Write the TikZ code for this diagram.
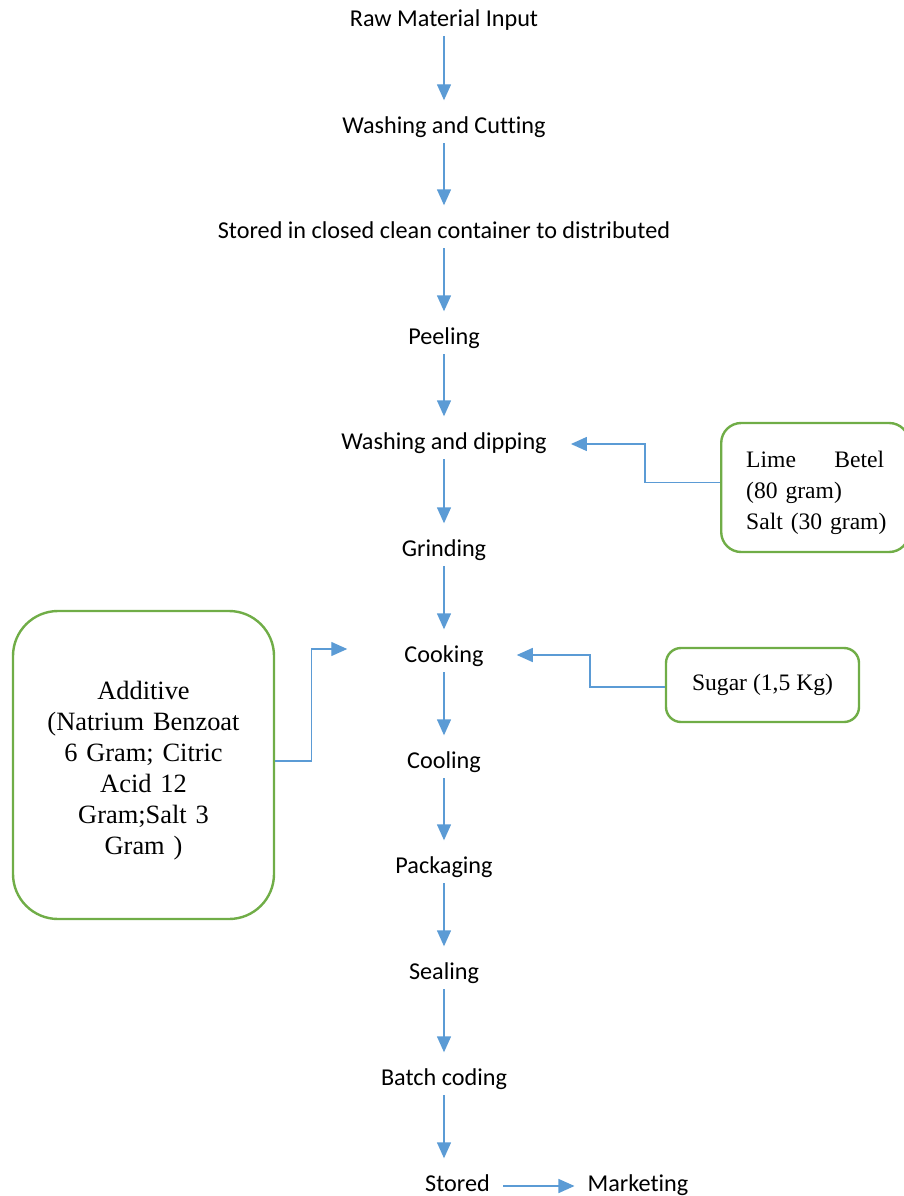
\documentclass[tikz,border=0pt]{standalone}
\usepackage{fontspec}
\setmainfont[Ligatures={NoCommon}]{Carlito}
\newfontfamily\boxfont{Liberation Serif}
\usetikzlibrary{arrows.meta}

\definecolor{flowblue}{HTML}{5B9BD5}
\definecolor{boxgreen}{HTML}{70AD47}

\tikzset{
	stepnode/.style={inner sep=0pt, text height=16pt, text depth=5pt,
		font=\fontsize{24.2}{29}\selectfont},
	inbox/.style={draw=boxgreen, line width=2.4pt, inner sep=0pt,
		font=\boxfont\fontsize{23.6}{31}\selectfont},
	flow/.style={draw=flowblue, line width=1.4pt,
		-{Triangle[length=16pt,width=14pt]}},
	down/.style={flow, shorten <=4.5pt, shorten >=17pt},
}

\begin{document}
\begin{tikzpicture}[x=1pt, y=-1pt]
	\useasboundingbox (0,0) rectangle (903,1196);
	
	% ----- main process column
	\node[stepnode] (raw)   at (444,21)   {Raw Material Input};
	\node[stepnode] (wcut)  at (444,128)  {Washing and Cutting};
	\node[stepnode] (store) at (444,233)  {Stored in closed clean container to distributed};
	\node[stepnode] (peel)  at (444,339)  {Peeling};
	\node[stepnode] (wdip)  at (444,444)  {Washing and dipping};
	\node[stepnode] (grind) at (444,551)  {Grinding};
	\node[stepnode] (cook)  at (444,657)  {Cooking};
	\node[stepnode] (cool)  at (444,763)  {Cooling};
	\node[stepnode] (pack)  at (444,868)  {Packaging};
	\node[stepnode] (seal)  at (444,974)  {Sealing};
	\node[stepnode] (batch) at (444,1080) {Batch coding};
	\node[stepnode] (stored) at (457.5,1186) {Stored};
	\node[stepnode] (market) at (638,1186)  {Marketing};
	
	% arrows down the column
	\draw[down] (raw)   -- (wcut);
	\draw[down] (wcut)  -- (store);
	\draw[down] (store) -- (peel);
	\draw[down] (peel)  -- (wdip);
	\draw[down] (wdip)  -- (grind);
	\draw[down] (grind) -- (cook);
	\draw[down] (cook)  -- (cool);
	\draw[down] (cool)  -- (pack);
	\draw[down] (pack)  -- (seal);
	\draw[down] (seal)  -- (batch);
	\draw[down] (batch) -- (stored.north -| batch);
	\draw[flow, shorten <=13pt, shorten >=13pt] (stored) -- (market);
	
	% ----- RIGHT: lime betel and salt
	\node[inbox, anchor=west, rounded corners=20pt, text width=138pt,
		inner xsep=25pt, minimum height=129pt, text height=27pt, align=left]
		(lime) at (720,487.5)
		{\makebox[138pt]{Lime\hfill Betel}\\(80 gram)\\\mbox{Salt (30 gram)}};
	\draw[flow, shorten >=24pt] ([yshift=5pt]lime.west) -- ++(-75,0) |- (wdip.east);
	
	% ----- RIGHT: sugar
	\node[inbox, rounded corners=15pt, minimum width=193pt, minimum height=74pt]
		(sugar) at (762.5,685) {Sugar (1,5 Kg)};
	\draw[flow, shorten >=33pt] ([yshift=-2pt]sugar.west) -- ++(-75,0) |- ([yshift=2pt]cook.east);
	
	% ----- LEFT: additive
	\node[inbox, rounded corners=45pt, minimum width=261pt, minimum height=308pt,
		text width=240pt, text height=30pt, align=center,
		font=\boxfont\fontsize{26.4}{31}\selectfont]
		(add) at (143.5,765)
		{Additive\\(Natrium Benzoat\\6 Gram; Citric\\Acid 12\\Gram;Salt 3\\Gram )};
	\draw[flow, shorten >=57pt] ([yshift=4pt]add.east) -- ++(36,0) |- ([yshift=8pt]cook.west);
	
\end{tikzpicture}
\end{document}
